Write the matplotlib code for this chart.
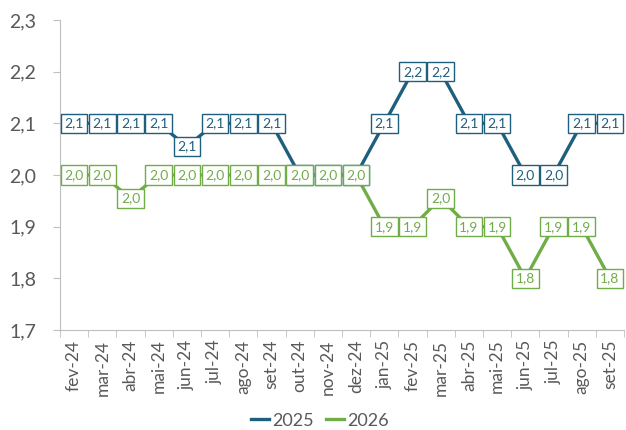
import matplotlib.pyplot as plt
import numpy as np

plt.rcParams['font.family'] = ['Lato', 'DejaVu Sans']

meses = ['fev-24', 'mar-24', 'abr-24', 'mai-24', 'jun-24', 'jul-24', 'ago-24',
         'set-24', 'out-24', 'nov-24', 'dez-24', 'jan-25', 'fev-25', 'mar-25',
         'abr-25', 'mai-25', 'jun-25', 'jul-25', 'ago-25', 'set-25']
proj_2025 = [2.1, 2.1, 2.1, 2.1, 2.055, 2.1, 2.1, 2.1, 2.0, 2.0, 2.0,
             2.1, 2.2, 2.2, 2.1, 2.1, 2.0, 2.0, 2.1, 2.1]
proj_2026 = [2.0, 2.0, 1.955, 2.0, 2.0, 2.0, 2.0, 2.0, 2.0, 2.0, 2.0,
             1.9, 1.9, 1.955, 1.9, 1.9, 1.8, 1.9, 1.9, 1.8]

azul = '#1f5f7e'
verde = '#70ad47'
cinza = '#595959'

fig = plt.figure(figsize=(6.26, 4.30), dpi=100)
ax = fig.add_axes([60 / 626, 100 / 430, 564 / 626, 310 / 430])

x = np.arange(len(meses))
for serie, cor, nome in [(proj_2025, azul, '2025'), (proj_2026, verde, '2026')]:
    ax.plot(x, serie, color=cor, lw=2.4, label=nome, zorder=2)
    for xi, v in zip(x, serie):
        ax.text(xi, v, f'{v:.1f}'.replace('.', ','), ha='center', va='center',
                fontsize=10, color=cor, zorder=3,
                bbox=dict(boxstyle='square,pad=0.26', fc='white', ec=cor, lw=1))

ax.set_ylim(1.7, 2.3)
ax.set_yticks(np.arange(1.7, 2.31, 0.1))
ax.set_yticklabels([f'{t:.1f}'.replace('.', ',') for t in np.arange(1.7, 2.31, 0.1)])
ax.set_xlim(-0.5, len(meses) - 0.5)
ax.set_xticks(x)
ax.set_xticklabels(meses, rotation=90)
ax.set_xticks(np.arange(-0.5, len(meses), 1), minor=True)
ax.tick_params(axis='x', which='major', length=0, pad=7, labelsize=12.5, colors=cinza)
ax.tick_params(axis='x', which='minor', length=5, color='#bfbfbf')
ax.tick_params(axis='y', length=5, color='#bfbfbf', labelsize=14, colors=cinza, pad=12)
for lado in ['top', 'right']:
    ax.spines[lado].set_visible(False)
for lado in ['left', 'bottom']:
    ax.spines[lado].set_color('#bfbfbf')

fig.legend(loc='lower center', ncol=2, frameon=False, fontsize=13,
           handlelength=1.0, handletextpad=0.15, columnspacing=0.7,
           labelcolor=cinza, bbox_to_anchor=(0.511, -0.035))

fig.savefig('out.png', dpi=100)
